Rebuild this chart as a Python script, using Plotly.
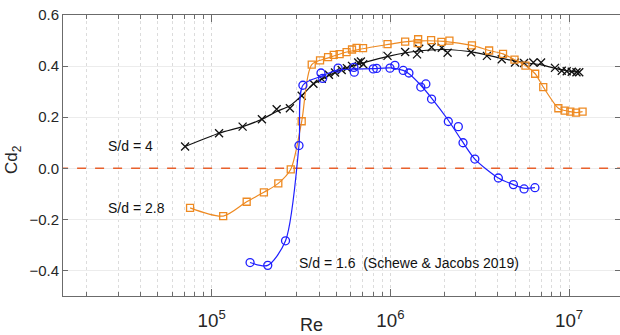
import plotly.graph_objects as go

# S/d = 4  (measured points and smoothed curve)
re_4 = [7.1e4, 1.10e5, 1.49e5, 1.91e5, 2.31e5, 2.74e5, 3.19e5, 3.71e5, 4.13e5, 4.53e5,
        4.90e5, 5.34e5, 5.71e5, 6.10e5, 6.61e5, 6.84e5, 7.05e5, 9.64e5, 1.21e6, 1.41e6,
        1.45e6, 1.70e6, 1.94e6, 2.09e6, 2.83e6, 3.47e6, 4.20e6, 4.98e6, 5.60e6, 6.31e6,
        6.97e6, 8.34e6, 9.10e6, 9.70e6, 1.035e7, 1.10e7, 1.14e7]
cd_4 = [0.085, 0.137, 0.163, 0.192, 0.231, 0.235, 0.284, 0.331, 0.350, 0.366,
        0.375, 0.385, 0.392, 0.401, 0.414, 0.418, 0.407, 0.440, 0.455, 0.446,
        0.468, 0.474, 0.472, 0.452, 0.454, 0.440, 0.427, 0.414, 0.412, 0.414,
        0.414, 0.393, 0.382, 0.380, 0.378, 0.376, 0.376]
fit_re_4 = [7.1e4, 1.10e5, 1.49e5, 1.91e5, 2.31e5, 2.74e5, 3.19e5, 3.71e5, 4.5e5, 5.5e5,
            7.0e5, 1.0e6, 1.4e6, 2.0e6, 3.0e6, 4.2e6, 5.6e6, 7.0e6, 8.5e6, 1.0e7, 1.14e7]
fit_cd_4 = [0.085, 0.137, 0.163, 0.192, 0.222, 0.245, 0.284, 0.330, 0.362, 0.390,
            0.412, 0.440, 0.458, 0.465, 0.453, 0.430, 0.414, 0.405, 0.390, 0.380, 0.376]

# S/d = 2.8
re_28 = [7.57e4, 1.16e5, 1.57e5, 1.96e5, 2.36e5, 2.77e5, 3.19e5, 3.63e5, 4.04e5, 4.48e5,
         4.82e5, 5.20e5, 5.69e5, 6.10e5, 6.47e5, 7.03e5, 9.64e5, 1.21e6, 1.42e6, 1.43e6,
         1.69e6, 1.93e6, 2.14e6, 2.86e6, 3.57e6, 4.27e6, 4.95e6, 5.70e6, 6.46e6, 7.17e6,
         8.71e6, 9.45e6, 1.016e7, 1.094e7, 1.19e7]
cd_28 = [-0.155, -0.187, -0.131, -0.094, -0.059, -0.004, 0.184, 0.406, 0.422, 0.435,
         0.444, 0.447, 0.455, 0.465, 0.471, 0.470, 0.486, 0.496, 0.490, 0.505,
         0.502, 0.495, 0.500, 0.481, 0.461, 0.448, 0.425, 0.402, 0.370, 0.318,
         0.235, 0.226, 0.222, 0.218, 0.222]
fit_re_28 = [7.57e4, 1.16e5, 1.57e5, 1.96e5, 2.36e5, 2.77e5, 3.19e5, 3.63e5, 4.5e5, 5.7e5,
             7.0e5, 1.0e6, 1.2e6, 1.5e6, 2.0e6, 2.86e6, 3.57e6, 4.27e6, 4.95e6, 5.70e6,
             6.46e6, 7.17e6, 8.71e6, 9.45e6, 1.016e7, 1.094e7, 1.19e7]
fit_cd_28 = [-0.155, -0.187, -0.131, -0.094, -0.059, -0.004, 0.184, 0.406, 0.432, 0.455,
             0.468, 0.486, 0.495, 0.499, 0.497, 0.481, 0.461, 0.448, 0.425, 0.402,
             0.370, 0.318, 0.235, 0.226, 0.222, 0.218, 0.222]

# S/d = 1.6 (Schewe & Jacobs 2019)
re_16 = [1.64e5, 2.06e5, 2.59e5, 3.08e5, 3.24e5, 4.09e5, 4.18e5, 5.10e5, 6.25e5, 6.28e5,
         8.02e5, 8.38e5, 9.95e5, 1.06e6, 1.18e6, 1.27e6, 1.48e6, 1.58e6, 1.70e6, 2.11e6,
         2.40e6, 2.55e6, 2.97e6, 4.02e6, 4.88e6, 5.60e6, 6.44e6]
cd_16 = [-0.369, -0.380, -0.284, 0.089, 0.325, 0.373, 0.352, 0.392, 0.395, 0.376,
         0.389, 0.391, 0.392, 0.403, 0.383, 0.373, 0.318, 0.330, 0.271, 0.183,
         0.163, 0.100, 0.036, -0.038, -0.064, -0.081, -0.076]
fit_re_16 = [1.64e5, 2.06e5, 2.59e5, 3.08e5, 3.24e5, 4.1e5, 5.1e5, 6.3e5, 8.0e5, 1.0e6,
             1.18e6, 1.27e6, 1.48e6, 1.70e6, 2.1e6, 2.5e6, 2.97e6, 4.02e6, 4.88e6, 5.6e6, 6.44e6]
fit_cd_16 = [-0.369, -0.380, -0.284, 0.089, 0.325, 0.360, 0.385, 0.388, 0.390, 0.393,
             0.383, 0.370, 0.325, 0.275, 0.190, 0.110, 0.036, -0.038, -0.064, -0.078, -0.076]

ORANGE = "#EE8A22"
BLUE = "#1F1FFF"
BLACK = "#111111"
FONT = "Liberation Sans, Arial, sans-serif"

fig = go.Figure()

# zero reference line
fig.add_trace(go.Scatter(x=[1.4e4, 2.1e7], y=[0, 0], mode="lines",
                         line=dict(color="#E8602C", width=1.3, dash="dash"),
                         hoverinfo="skip"))

for fx, fy, px, py, col, sym, size in [
    (fit_re_4, fit_cd_4, re_4, cd_4, BLACK, "x-thin-open", 8),
    (fit_re_28, fit_cd_28, re_28, cd_28, ORANGE, "square-open", 7),
    (fit_re_16, fit_cd_16, re_16, cd_16, BLUE, "circle-open", 8),
]:
    fig.add_trace(go.Scatter(x=fx, y=fy, mode="lines",
                             line=dict(color=col, width=1.2, shape="spline", smoothing=0.8)))
    fig.add_trace(go.Scatter(x=px, y=py, mode="markers",
                             marker=dict(symbol=sym, size=size, color=col,
                                         line=dict(color=col, width=1.3))))

axis_font = dict(family=FONT, size=15, color="#262626")

fig.update_xaxes(type="log", range=[4.168, 7.285], dtick=1, exponentformat="power",
                 showline=True, linecolor="#6b6b6b", linewidth=1, mirror="ticks",
                 ticks="inside", ticklen=7, tickcolor="#6b6b6b",
                 showgrid=True, gridcolor="#d9d9d9", griddash="dot", gridwidth=1,
                 minor=dict(ticks="inside", ticklen=4, tickcolor="#6b6b6b",
                            showgrid=True, gridcolor="#dcdcdc", griddash="dot"),
                 tickfont=axis_font, ticklabelstandoff=8, zeroline=False)
fig.update_yaxes(range=[-0.5, 0.6], dtick=0.2, tickformat=".1f",
                 showline=True, linecolor="#6b6b6b", linewidth=1, mirror="ticks",
                 ticks="inside", ticklen=5, tickcolor="#6b6b6b",
                 showgrid=True, gridcolor="#ececec", gridwidth=1,
                 tickfont=axis_font, zeroline=False)

# plot area in pixels: left 63, right 620, top 15, bottom 296
PW, PH = 557.0, 281.0
def px_x(p):
    return (p - 63) / PW
def px_y(p):
    return (296 - p) / PH

ann_font = dict(family=FONT, size=14, color="#111111")
annotations = [
    dict(x=px_x(106), y=0.087, xref="paper", yref="y", text="S/d = 4",
         showarrow=False, xanchor="left", yanchor="middle", font=ann_font),
    dict(x=px_x(106), y=-0.155, xref="paper", yref="y", text="S/d = 2.8",
         showarrow=False, xanchor="left", yanchor="middle", font=ann_font),
    dict(x=px_x(297), y=-0.372, xref="paper", yref="y",
         text="S/d = 1.6  (Schewe & Jacobs 2019)",
         showarrow=False, xanchor="left", yanchor="middle", font=ann_font),
    dict(x=px_x(311), y=px_y(325), xref="paper", yref="paper",
         text="Re", showarrow=False, xanchor="center", yanchor="middle",
         font=dict(family=FONT, size=18, color="#262626")),
    dict(x=px_x(13), y=px_y(160), xref="paper", yref="paper",
         text="Cd<sub>2</sub>", textangle=-90, showarrow=False,
         xanchor="center", yanchor="middle",
         font=dict(family=FONT, size=17, color="#262626")),
]

fig.update_layout(width=620, height=335, margin=dict(l=63, r=0, t=15, b=39),
                  paper_bgcolor="white", plot_bgcolor="white", showlegend=False,
                  annotations=annotations)

fig.write_html("out.html")
